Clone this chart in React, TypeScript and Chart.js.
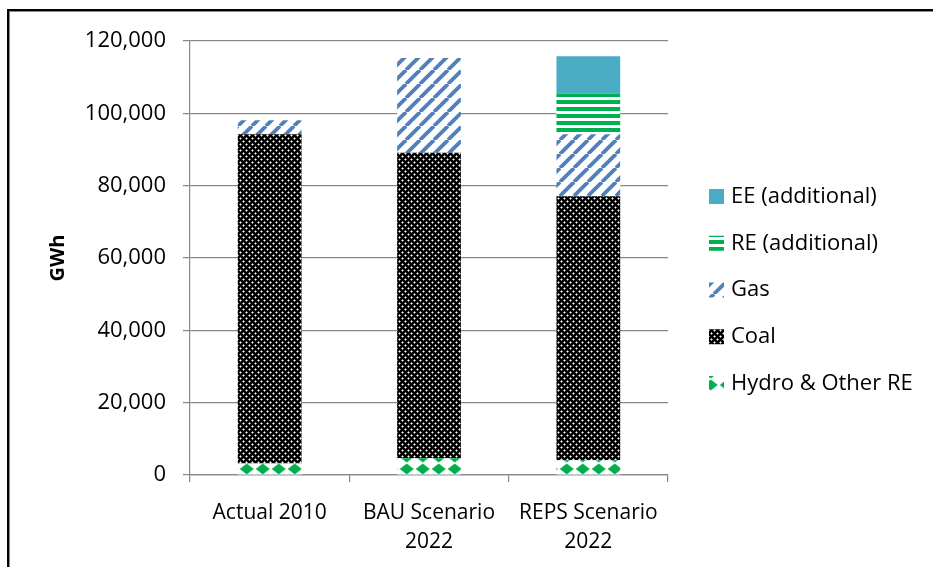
import React, { useEffect, useRef } from "react";
import { Chart, registerables } from "chart.js";
Chart.register(...registerables);

const categories: (string | string[])[] = ["Actual 2010", ["BAU Scenario", "2022"], ["REPS Scenario", "2022"]];
const seriesNames = ["Hydro & Other RE", "Coal", "Gas", "RE (additional)", "EE (additional)"];
const hydro = [3200, 4600, 4100];
const coal = [91000, 84500, 73000];
const gas = [3900, 26200, 17100];
const reAdditional = [0, 0, 11300];
const eeAdditional = [0, 0, 10300];
const yMin = 0;
const yMax = 120000;
const yStep = 20000;

const FONT = "'Open Sans', 'Noto Sans', sans-serif";
const GRID = "#878787";

function makeTile(w: number, h: number, draw: (c: CanvasRenderingContext2D) => void) {
  const cv = document.createElement("canvas");
  cv.width = w;
  cv.height = h;
  const c = cv.getContext("2d")!;
  draw(c);
  return cv;
}

function coalPattern(ctx: CanvasRenderingContext2D) {
  const tile = makeTile(6, 6, (c) => {
    c.fillStyle = "#000";
    c.fillRect(0, 0, 6, 6);
    const grey = "#8a8a8a";
    const pts = [
      [0, 0],
      [3, 3],
    ];
    for (const [x, y] of pts) {
      c.fillStyle = grey;
      for (const [dx, dy] of [[1, 0], [-1, 0], [0, 1], [0, -1]]) {
        c.fillRect((x + dx + 6) % 6, (y + dy + 6) % 6, 1, 1);
      }
      c.fillStyle = "#fff";
      c.fillRect(x, y, 1, 1);
    }
  });
  return ctx.createPattern(tile, "repeat")!;
}

function gasPattern(ctx: CanvasRenderingContext2D) {
  const tile = makeTile(14, 14, (c) => {
    c.fillStyle = "#fff";
    c.fillRect(0, 0, 14, 14);
    c.strokeStyle = "#4F81BD";
    c.lineWidth = 3.8;
    for (const k of [-14, 0, 14]) {
      c.beginPath();
      c.moveTo(k, 14);
      c.lineTo(k + 14, 0);
      c.stroke();
    }
  });
  return ctx.createPattern(tile, "repeat")!;
}

function rePattern(ctx: CanvasRenderingContext2D) {
  const tile = makeTile(4, 7, (c) => {
    c.fillStyle = "#fff";
    c.fillRect(0, 0, 4, 7);
    c.fillStyle = "#00B050";
    c.fillRect(0, 0, 4, 4);
  });
  const p = ctx.createPattern(tile, "repeat")!;
  p.setTransform(new DOMMatrix().translate(0, 2));
  return p;
}

function hydroPattern(ctx: CanvasRenderingContext2D) {
  const tile = makeTile(16, 12, (c) => {
    c.fillStyle = "#fff";
    c.fillRect(0, 0, 16, 12);
    c.fillStyle = "#00B050";
    c.beginPath();
    c.moveTo(8, 0.5);
    c.lineTo(15, 6);
    c.lineTo(8, 11.5);
    c.lineTo(1, 6);
    c.closePath();
    c.fill();
  });
  const p = ctx.createPattern(tile, "repeat")!;
  p.setTransform(new DOMMatrix().translate(14.7, 7));
  return p;
}

const legendPlugin = {
  id: "customLegend",
  afterDraw(chart: any) {
    const ctx = chart.ctx as CanvasRenderingContext2D;
    const ds = chart.data.datasets;
    ctx.save();
    ctx.font = `22px ${FONT}`;
    ctx.textBaseline = "middle";
    ctx.textAlign = "left";
    const n = ds.length;
    for (let k = 0; k < n; k++) {
      const d = ds[n - 1 - k];
      const cy = 196.5 + k * 46.75;
      ctx.fillStyle = d.backgroundColor;
      ctx.fillRect(709, cy - 7.5, 15, 15);
      ctx.fillStyle = "#000";
      ctx.fillText(d.label, 731, cy);
    }
    ctx.restore();
  },
};

export default function App() {
  const ref = useRef<HTMLCanvasElement>(null);
  useEffect(() => {
    const canvas = ref.current!;
    const ctx = canvas.getContext("2d")!;
    const common = { borderWidth: 0, barPercentage: 0.4, categoryPercentage: 1.0 };
    const chart = new Chart(canvas, {
      type: "bar",
      data: {
        labels: categories as any,
        datasets: [
          { label: seriesNames[0], data: hydro, backgroundColor: hydroPattern(ctx), ...common },
          { label: seriesNames[1], data: coal, backgroundColor: coalPattern(ctx), ...common },
          { label: seriesNames[2], data: gas, backgroundColor: gasPattern(ctx), ...common },
          { label: seriesNames[3], data: reAdditional, backgroundColor: rePattern(ctx), ...common },
          { label: seriesNames[4], data: eeAdditional, backgroundColor: "#4BACC6", ...common },
        ] as any,
      },
      options: {
        responsive: false,
        animation: false,
        events: [],
        layout: { padding: { left: 0, top: 41, right: 265, bottom: 0 } },
        plugins: { legend: { display: false }, tooltip: { enabled: false } },
        scales: {
          x: {
            stacked: true,
            grid: { offset: true, drawOnChartArea: false, color: GRID, tickLength: 7, lineWidth: 1.2 },
            border: { color: GRID, width: 1.2 },
            ticks: {
              color: "#000",
              font: { family: FONT, size: 21, lineHeight: 1.4 },
              padding: 16,
              maxRotation: 0,
              autoSkip: false,
            },
            afterFit: (s: any) => {
              s.height = 92;
            },
          },
          y: {
            stacked: true,
            min: yMin,
            max: yMax,
            ticks: {
              stepSize: yStep,
              color: "#000",
              font: { family: FONT, size: 22 },
              padding: 17,
              callback: (v: any) => Number(v).toLocaleString("en-US"),
            },
            grid: { color: GRID, tickLength: 7, lineWidth: 1.2 },
            border: { color: GRID, width: 1.2 },
            title: {
              display: true,
              text: "GWh",
              color: "#000",
              font: { family: FONT, size: 20, weight: "bold" },
              padding: { top: 46, bottom: 0 },
            },
            afterFit: (s: any) => {
              s.width = 190;
            },
          },
        },
      } as any,
      plugins: [legendPlugin],
    });
    return () => chart.destroy();
  }, []);
  return (
    <div style={{ position: "absolute", left: 0, top: 0, width: 933, height: 567, overflow: "hidden", background: "#fff" }}>
      <div
        style={{
          position: "absolute",
          left: 7,
          top: 9,
          width: 1200,
          height: 1200,
          borderLeft: "2px solid #000",
          borderTop: "2px solid #000",
          boxShadow: "inset 1px 1px 0 #888",
        }}
      />
      <canvas ref={ref} width={933} height={567} style={{ position: "absolute", left: 0, top: 0 }} />
    </div>
  );
}
